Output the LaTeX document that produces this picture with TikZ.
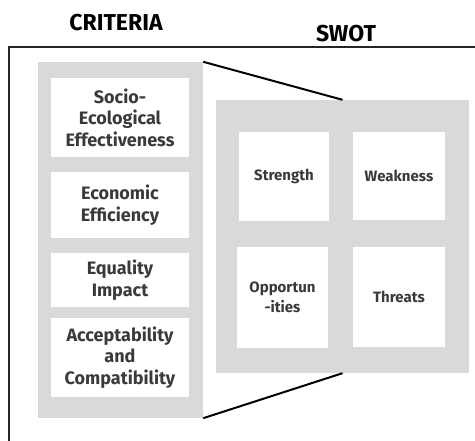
\documentclass[tikz,border=0pt]{standalone}
\usepackage{fontspec}
\setmainfont{Fira Sans}
\definecolor{panelgray}{HTML}{D9D9D9}
\definecolor{txtgray}{HTML}{3A3A3A}
\begin{document}
\begin{tikzpicture}[x=1pt,y=-1pt,
  panel/.style={fill=panelgray, draw=none, inner sep=0pt},
  cell/.style={fill=white, draw=none, inner sep=0pt, align=center, text=txtgray,
    font=\fontsize{18}{21.5}\selectfont\bfseries},
  swcell/.style={cell, font=\fontsize{15}{19.5}\selectfont\bfseries},
  title/.style={font=\fontsize{23}{26}\selectfont\bfseries, text=black},
  link/.style={line width=2pt, black}]
\useasboundingbox (0,0) rectangle (475,441);
\begin{scope}
\clip (0,0) rectangle (475,441);
\draw[line width=1.2pt, black!85] (9,47) rectangle (490,460);
\end{scope}
\node[title] (tcrit) at (116,22.5) {CRITERIA};
\node[title] (tswot) at (346,33.5) {SWOT};
% panels
\node[panel, minimum width=165, minimum height=356] (left) at (120.5,240) {};
\node[panel, minimum width=253, minimum height=273] (right) at (342.5,236.5) {};
% criteria
\node[cell, minimum width=138, minimum height=79] (c1) at (120,117.5) {Socio-\\Ecological\\Effectiveness};
\node[cell, minimum width=138, minimum height=66] (c2) at (120,205) {Economic\\Efficiency};
\node[cell, minimum width=138, minimum height=54] (c3) at (120,280) {Equality\\Impact};
\node[cell, minimum width=138, minimum height=79] (c4) at (120,357.5) {Acceptability\\and\\Compatibility};
% swot
\node[swcell, minimum width=90, minimum height=89] (s) at (284,176.5) {Strength};
\node[swcell, minimum width=92, minimum height=88] (w) at (399,176) {Weakness};
\node[swcell, minimum width=91, minimum height=101] (o) at (282.5,297.5) {Opportun\\-ities};
\node[swcell, minimum width=92, minimum height=100] (t) at (399,297) {Threats};
% links
\draw[link] (left.north east) -- (right.north);
\draw[link] (left.south east) -- (right.south);
\end{tikzpicture}
\end{document}
